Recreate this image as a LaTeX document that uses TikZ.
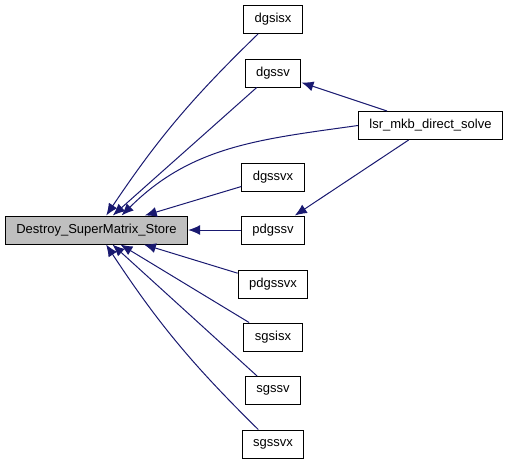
\documentclass[tikz,border=0pt]{standalone}
\usepackage{fontspec}
\setmainfont{Liberation Sans}
\usetikzlibrary{arrows.meta}
\definecolor{edgeblue}{RGB}{25,25,112}
\definecolor{boxgray}{RGB}{191,191,191}
\begin{document}
\begin{tikzpicture}[x=1pt, y=1pt,
    fn/.style={draw=black, line width=1pt, fill=white, inner xsep=11pt, inner ysep=0pt, minimum height=28pt, font=\fontsize{13}{15}\selectfont},
    cur/.style={fn, fill=boxgray},
    call/.style={draw=edgeblue, line width=1pt, -{Latex[length=12pt,width=10pt]}}]
            \useasboundingbox (0,0) rectangle (509,-464);
            \node[cur] (destroy) at (96.5, -230) {Destroy\_SuperMatrix\_Store};
            \node[fn] (dgsisx) at (273, -19.5) {dgsisx};
            \node[fn] (dgssv) at (273, -73) {dgssv};
            \node[fn] (lsr) at (430.5, -125.5) {lsr\_mkb\_direct\_solve};
            \node[fn] (dgssvx) at (273, -177) {dgssvx};
            \node[fn] (pdgssv) at (273, -230) {pdgssv};
            \node[fn] (pdgssvx) at (273, -284) {pdgssvx};
            \node[fn] (sgsisx) at (273, -337) {sgsisx};
            \node[fn] (sgssv) at (273, -390.5) {sgssv};
            \node[fn] (sgssvx) at (273, -444) {sgssvx};
            \draw[call] (dgsisx) to[bend right=6] (destroy);
            \draw[call] (dgssv) -- (destroy);
            \draw[call] (lsr.west) to[out=188, in=45] (destroy.30);
            \draw[call] (dgssvx) -- (destroy);
            \draw[call] (pdgssv) -- (destroy);
            \draw[call] (pdgssvx) -- (destroy);
            \draw[call] (sgsisx) -- (destroy);
            \draw[call] (sgssv) -- (destroy);
            \draw[call] (sgssvx) to[bend left=6] (destroy);
            \draw[call] (lsr) -- (dgssv);
            \draw[call] (lsr) -- (pdgssv);
        \end{tikzpicture}
\end{document}
